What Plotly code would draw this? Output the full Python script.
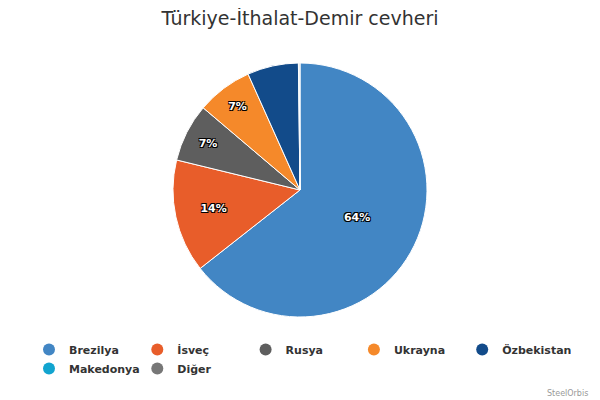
import plotly.graph_objects as go

countries = ["Brezilya", "İsveç", "Rusya", "Ukrayna", "Özbekistan", "Makedonya", "Diğer"]
shares = [64.4, 14.4, 7.4, 7.1, 6.5, 0.1, 0.1]
colors = ["#4286C4", "#E85D2A", "#5E5E5E", "#F5892A", "#124B8A", "#12A4CF", "#777777"]
label_min = 7.0

title_text = "Türkiye-İthalat-Demir cevheri"
credit_text = "SteelOrbis"

templates = ["%{percent:.0%}" if v >= label_min else "" for v in shares]

# The page body has an 8px margin, so the figure is 592x392 and fills the rest of the window.
W, H = 592, 392

fig = go.Figure()
fig.add_trace(go.Pie(
    labels=countries, values=shares, sort=False, direction="clockwise", rotation=0,
    marker=dict(colors=colors, line=dict(color="white", width=1)),
    textposition="inside", insidetextorientation="horizontal",
    texttemplate=templates,
    textfont=dict(family="DejaVu Sans", size=11, color="white", weight="bold",
                  shadow="-1px -1px 0 #000, 1px -1px 0 #000, -1px 1px 0 #000, 1px 1px 0 #000"),
    domain=dict(x=[0, 584 / W], y=[1 - 309 / H, 1 - 55 / H]),
    showlegend=False, hoverinfo="label+percent",
))

for name, col in zip(countries, colors):
    fig.add_trace(go.Scatter(
        x=[None], y=[None], mode="markers", name=name,
        marker=dict(symbol="circle", size=12, color=col),
        showlegend=True,
    ))

fig.update_layout(
    width=W, height=H,
    margin=dict(l=0, r=0, t=0, b=0),
    paper_bgcolor="white", plot_bgcolor="white",
    xaxis=dict(visible=False), yaxis=dict(visible=False),
    title=dict(text=title_text, x=292 / W, xanchor="center", y=1 - 10 / H, yanchor="middle",
               yref="container",
               font=dict(family="DejaVu Sans", size=19, color="#333333")),
    legend=dict(orientation="h", x=21 / W, xanchor="left", y=1 - 327 / H, yanchor="top",
                entrywidth=63.3, entrywidthmode="pixels", itemwidth=30,
                font=dict(family="DejaVu Sans", size=11, color="#333333", weight="bold"),
                tracegroupgap=0, bgcolor="rgba(0,0,0,0)"),
    annotations=[dict(text=credit_text, x=582 / W, xref="paper", xanchor="right",
                      y=1 - 385 / H, yref="paper", yanchor="middle", showarrow=False,
                      font=dict(family="DejaVu Sans", size=8, color="#999999"))],
)

fig.write_html("out.html")
